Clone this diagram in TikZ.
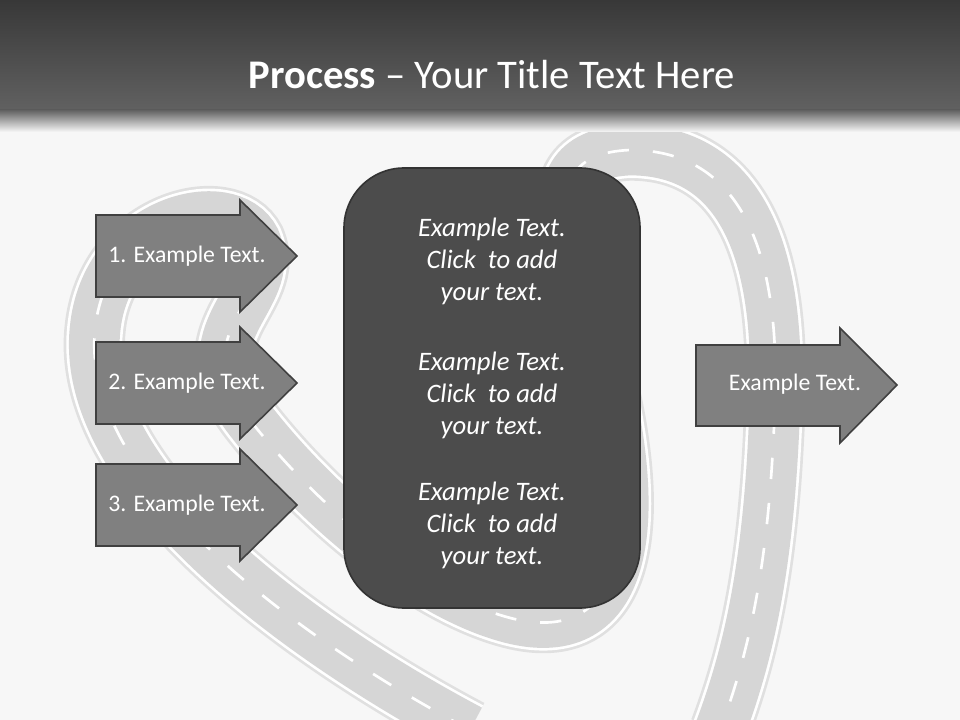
\documentclass[tikz,border=0pt]{standalone}
\usepackage{fontspec}
\setmainfont{Carlito}
\begin{document}
\begin{tikzpicture}[x=0.75pt,y=-0.75pt,
  arr/.style={fill=black!50,draw=black!75,line width=1.2pt},
  lbl/.style={text=white,font=\fontsize{17.8}{20}\selectfont},
  ctext/.style={text=white,font=\itshape\fontsize{20}{24}\selectfont,align=center}]
\useasboundingbox (0,0) rectangle (960,720);
\fill[black!3] (0,0) rectangle (960,720);
% road
\def\road{(470,730) .. controls (300,640) and (80,480) .. (95,330) .. controls (105,220) and (230,190) .. (255,240) .. controls (280,300) and (180,330) .. (250,420) .. controls (320,510) and (420,590) .. (500,615) .. controls (610,650) and (640,560) .. (615,420) .. controls (590,280) and (510,155) .. (630,150) .. controls (740,150) and (780,250) .. (775,400) .. controls (770,560) and (750,650) .. (720,730)}
\draw[black!12,line width=46pt] \road;
\draw[white,line width=42pt] \road;
\draw[black!16,line width=38pt] \road;
\draw[white,line width=2pt,dash pattern=on 16pt off 18pt] \road;
% header
\shade[top color=black!78,bottom color=black!62] (0,0) rectangle (960,110);
\shade[top color=black!62,bottom color=black!3] (0,110) rectangle (960,132);
\node[text=white,font=\fontsize{30.5}{34}\selectfont] (title) at (492,75) {\textbf{Process} -- Your Title Text Here};
% left arrows
\foreach \y in {256,383,505}{
 \draw[arr] (96,\y-41) -- (240,\y-41) -- (240,\y-56) -- (297,\y) -- (240,\y+56) -- (240,\y+41) -- (96,\y+41) -- cycle;
}
\node[lbl] (t1) at (187,256) {1. Example Text.};
\node[lbl] (t2) at (187,383) {2. Example Text.};
\node[lbl] (t3) at (187,505) {3. Example Text.};
% right arrow
\draw[arr] (696,345) -- (840,345) -- (840,328) -- (897,385) -- (840,443) -- (840,426) -- (696,426) -- cycle;
\node[lbl] (tr) at (795,384) {Example Text.};
% center box
\draw[fill=black!70,draw=black!80,line width=1.2pt,rounded corners=45pt] (344,168) rectangle (640,608);
\node[ctext] (c1) at (492,261) {Example Text.\\Click~ to add\\your text.};
\node[ctext] (c2) at (492,395) {Example Text.\\Click~ to add\\your text.};
\node[ctext] (c3) at (492,525) {Example Text.\\Click~ to add\\your text.};
\end{tikzpicture}
\end{document}
